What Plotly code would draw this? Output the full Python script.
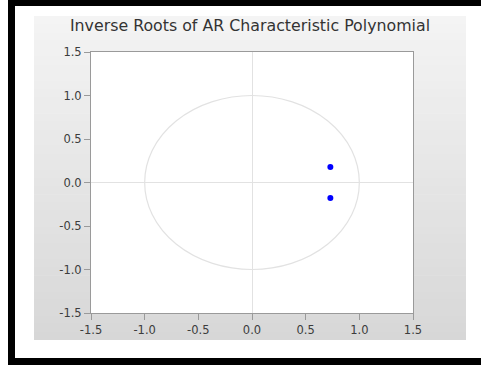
import plotly.graph_objects as go

# ---- data ----
roots_re = [0.73, 0.73]
roots_im = [0.177, -0.177]
tick_vals = [-1.5, -1.0, -0.5, 0.0, 0.5, 1.0, 1.5]
tick_text = ["-1.5", "-1.0", "-0.5", "0.0", "0.5", "1.0", "1.5"]
title_text = "Inverse Roots of AR Characteristic Polynomial"

# ---- layout geometry (pixels) ----
W, H = 481, 365
L, R, T, B = 91, 68, 52, 52
PW = W - L - R
PH = H - T - B


def px(x):
    return (x - L) / PW


def py(y):
    return (H - B - y) / PH


shapes = []
# gradient grey panel
n = 40
top_c = (0xF4, 0xF4, 0xF4)
bot_c = (0xD7, 0xD7, 0xD7)
p_top, p_bot = 16, 340
for i in range(n):
    y0 = p_top + (p_bot - p_top) * i / n
    y1 = p_top + (p_bot - p_top) * (i + 1) / n + 0.6
    t = (i + 0.5) / n
    c = tuple(round(top_c[k] + (bot_c[k] - top_c[k]) * t) for k in range(3))
    shapes.append(dict(type="rect", xref="paper", yref="paper",
                       x0=px(34), x1=px(466), y0=py(min(y1, p_bot)), y1=py(y0),
                       fillcolor="rgb(%d,%d,%d)" % c, line_width=0, layer="below"))

# white plotting area
shapes.append(dict(type="rect", xref="paper", yref="paper", x0=0, x1=1, y0=0, y1=1,
                   fillcolor="white", line_width=0, layer="below"))

# black frame (top, left, bottom)
for (x0, x1, y0, y1) in [(8, 481, 0, 6), (8, 15, 0, 365), (8, 481, 358, 365)]:
    shapes.append(dict(type="rect", xref="paper", yref="paper",
                       x0=px(x0), x1=px(x1), y0=py(y1), y1=py(y0),
                       fillcolor="black", line_width=0, layer="above"))

# unit circle
shapes.append(dict(type="circle", xref="x", yref="y", x0=-1, x1=1, y0=-1, y1=1,
                   line=dict(color="#e2e2e2", width=1.2), layer="below"))

fig = go.Figure()
fig.add_trace(go.Scatter(x=roots_re, y=roots_im, mode="markers",
                         marker=dict(color="#0000ff", size=6),
                         showlegend=False, hoverinfo="x+y"))

axis_common = dict(
    range=[-1.5, 1.5], tickvals=tick_vals, ticktext=tick_text,
    showgrid=False, zeroline=True, zerolinecolor="#e2e2e2", zerolinewidth=1,
    showline=True, linecolor="#9a9a9a", linewidth=1, mirror=True,
    ticks="outside", ticklen=6, tickcolor="#9a9a9a",
    tickfont=dict(family="DejaVu Sans", size=11.5, color="#3c3c3c"),
    fixedrange=True,
)

fig.update_layout(
    width=W, height=H,
    margin=dict(l=L, r=R, t=T, b=B, pad=0),
    paper_bgcolor="white", plot_bgcolor="white",
    title=dict(text=title_text, x=250 / W, xanchor="center", y=1 - 25 / H, yanchor="middle",
               font=dict(family="DejaVu Sans", size=15.8, color="#333333")),
    xaxis=dict(**axis_common),
    yaxis=dict(**axis_common),
    shapes=shapes,
)

fig.write_html("out.html", post_script="document.body.style.margin='0px';",
               config={"displayModeBar": False})
